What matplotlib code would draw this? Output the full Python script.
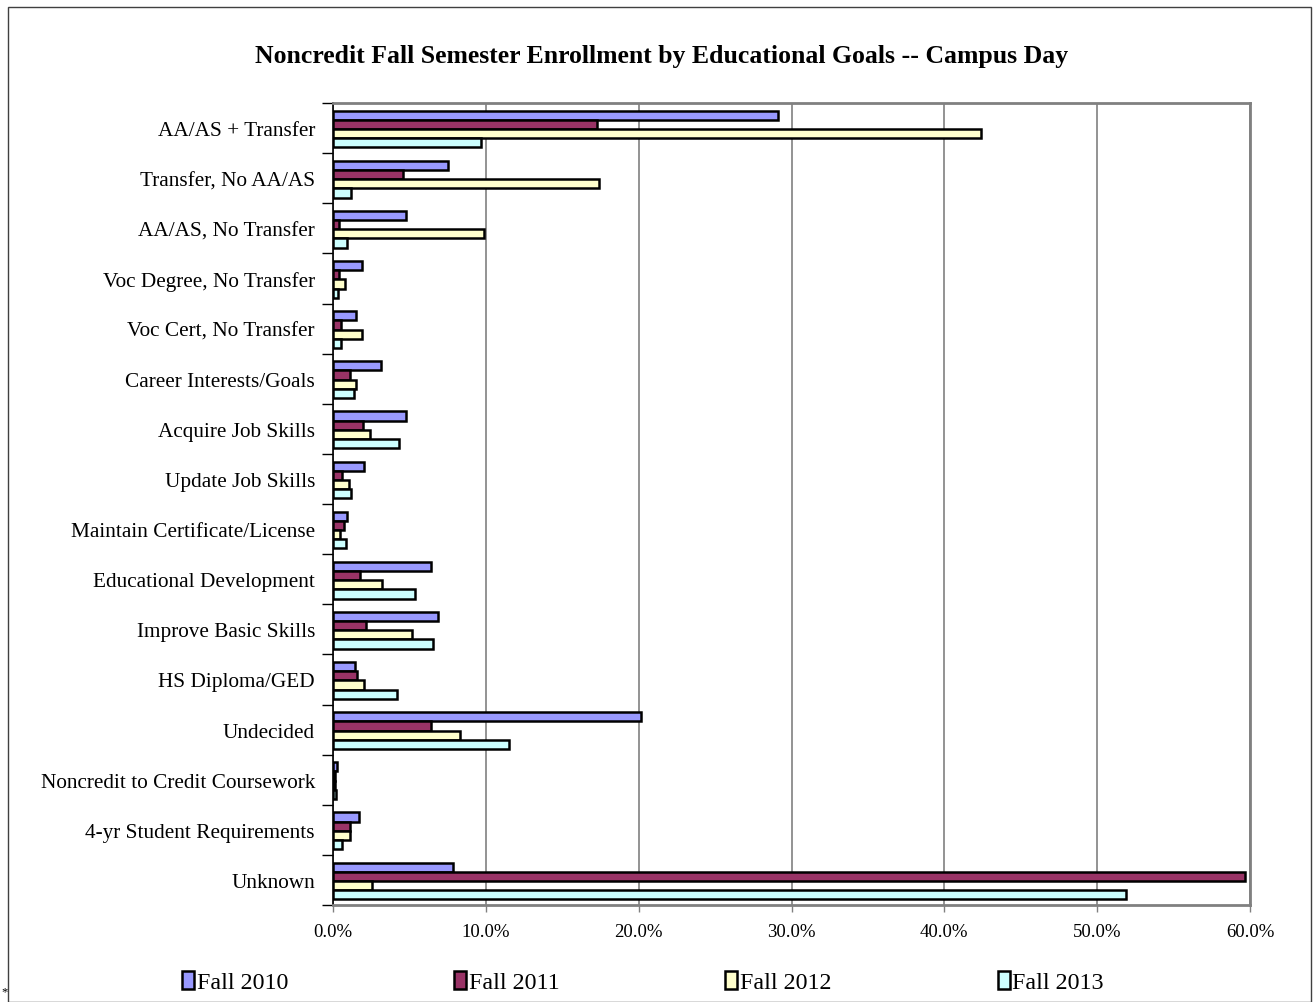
import matplotlib
matplotlib.use("Agg")
import matplotlib.pyplot as plt
import numpy as np
from matplotlib.patches import Rectangle

categories = ["AA/AS + Transfer", "Transfer, No AA/AS", "AA/AS, No Transfer",
              "Voc Degree, No Transfer", "Voc Cert, No Transfer", "Career Interests/Goals",
              "Acquire Job Skills", "Update Job Skills", "Maintain Certificate/License",
              "Educational Development", "Improve Basic Skills", "HS Diploma/GED",
              "Undecided", "Noncredit to Credit Coursework", "4-yr Student Requirements",
              "Unknown"]
fall_2010 = [29.1, 7.5, 4.8, 1.9, 1.5, 3.15, 4.8, 2.05, 0.9, 6.4, 6.9, 1.45, 20.15, 0.25, 1.7, 7.85]
fall_2011 = [17.3, 4.6, 0.4, 0.4, 0.55, 1.1, 1.95, 0.6, 0.75, 1.75, 2.15, 1.55, 6.4, 0.15, 1.1, 59.7]
fall_2012 = [42.4, 17.4, 9.85, 0.8, 1.9, 1.5, 2.45, 1.05, 0.45, 3.2, 5.2, 2.0, 8.3, 0.15, 1.1, 2.55]
fall_2013 = [9.7, 1.15, 0.9, 0.35, 0.55, 1.4, 4.3, 1.15, 0.85, 5.35, 6.55, 4.2, 11.5, 0.2, 0.6, 51.9]
series_names = ["Fall 2010", "Fall 2011", "Fall 2012", "Fall 2013"]
colors = ["#9999FF", "#993366", "#FFFFCC", "#CCFFFF"]
xticks = [0, 10, 20, 30, 40, 50, 60]

serif = ["Liberation Serif", "DejaVu Serif"]
plt.rcParams['font.family'] = serif

W, H = 1313, 1003
fig = plt.figure(figsize=(W / 100, H / 100), dpi=100)
ax = fig.add_axes([333 / W, 1 - 906 / H, (1250 - 333) / W, (906 - 104) / H])

n = len(categories)
y = np.arange(n)
bh = 0.183
series = [fall_2010, fall_2011, fall_2012, fall_2013]
for i, (vals, c, name) in enumerate(zip(series, colors, series_names)):
    ax.barh(y - 0.255 + i * bh, vals, height=bh, color=c, edgecolor="black",
            linewidth=1.8, label=name, zorder=3)

ax.set_xlim(0, 60)
ax.set_ylim(n - 0.5, -0.5)
ax.set_xticks(xticks)
ax.set_xticklabels([f"{v:.1f}%" for v in xticks], fontsize=13.5)
ax.set_yticks(y)
ax.set_yticklabels(categories, fontsize=15.3)
ax.tick_params(axis="y", length=0, pad=13)
ax.set_yticks(np.arange(-0.5, n, 1), minor=True)
ax.tick_params(axis="y", which="minor", length=8, width=1, color="black", direction="out")
ax.tick_params(axis="x", length=5, width=1, color="#808080", direction="out", pad=8)
ax.xaxis.grid(True, color="#808080", linewidth=1.2, zorder=0)
ax.set_axisbelow(True)
for s in ["top", "right", "bottom"]:
    ax.spines[s].set_color("#808080")
    ax.spines[s].set_linewidth(2)
ax.spines["left"].set_color("black")
ax.spines["left"].set_linewidth(1.2)

fig.text(662 / W, 1 - 57 / H, "Noncredit Fall Semester Enrollment by Educational Goals -- Campus Day",
         ha="center", va="center", fontsize=18.5, fontweight="bold")

# chart border
fig.patches.append(Rectangle((8 / W, 0), (1311 - 8) / W, 1 - 8 / H, transform=fig.transFigure,
                             fill=False, edgecolor="#404040", linewidth=1.0))

handles, labels = ax.get_legend_handles_labels()
leg = fig.legend(handles, labels, loc="center", bbox_to_anchor=(643 / W, 1 - 983 / H), ncol=4,
                 frameon=False, fontsize=17.3, handlelength=0.5, handleheight=0.75,
                 handletextpad=0.12, columnspacing=6.9, borderaxespad=0)

fig.text(5 / W, 1 - 992 / H, "*", fontsize=9, ha="center", va="center")

fig.savefig("out.png", dpi=100)
